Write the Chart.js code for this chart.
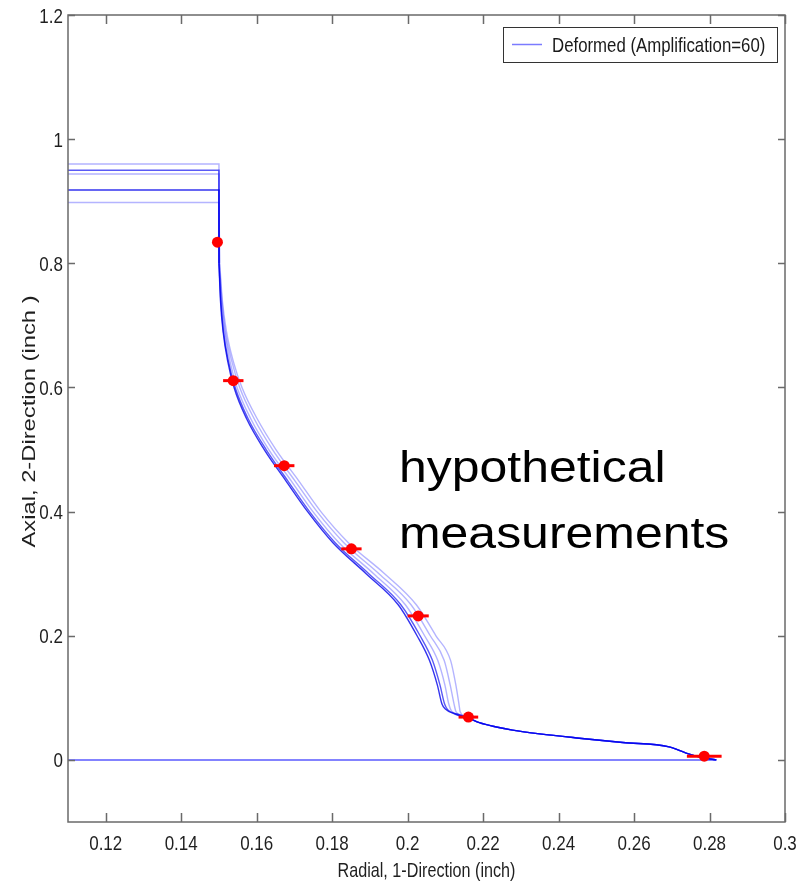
<!DOCTYPE html>
<html>
<head>
<meta charset="utf-8">
<script src="https://cdn.jsdelivr.net/npm/chart.js@4.4.1/dist/chart.umd.min.js"></script>
<style>
  html, body { margin: 0; padding: 0; background: #fff; }
  #wrap { width: 808px; height: 881px; }
</style>
</head>
<body>
<div id="wrap"><canvas id="deformChart" width="808" height="881"></canvas></div>
<script>
// axes
const xTicks = [0.12, 0.14, 0.16, 0.18, 0.2, 0.22, 0.24, 0.26, 0.28, 0.3];
const xTickLabels = ['0.12', '0.14', '0.16', '0.18', '0.2', '0.22', '0.24', '0.26', '0.28', '0.3'];
const yTicks = [0, 0.2, 0.4, 0.6, 0.8, 1, 1.2];
const yTickLabels = ['0', '0.2', '0.4', '0.6', '0.8', '1', '1.2'];

// flat tops of the deformed profiles (x from 0.11 to 0.15)
const capEdge = [0.11, 0.15];
const capTops = [0.918, 0.950, 0.960, 0.944, 0.898];

// deformed profiles, [radial, axial]
const curveA = [[0.1500,0.80],[0.1504,0.74],[0.1511,0.69],[0.1524,0.64],[0.1540,0.60],[0.1573,0.55],[0.1620,0.50],[0.1677,0.45],[0.1735,0.40],[0.1802,0.35],[0.1890,0.30],[0.1975,0.25],[0.2025,0.20],[0.2058,0.16],[0.2079,0.12],[0.2091,0.09],[0.2100,0.082],[0.2125,0.074]];
const curveB = [[0.1500,0.80],[0.1505,0.74],[0.1512,0.69],[0.1526,0.64],[0.1543,0.60],[0.1577,0.55],[0.1625,0.50],[0.1682,0.45],[0.1740,0.40],[0.1808,0.35],[0.1897,0.30],[0.1982,0.25],[0.2033,0.20],[0.2066,0.16],[0.2086,0.12],[0.2098,0.09],[0.2106,0.081],[0.2130,0.074]];
const curveC = [[0.1501,0.80],[0.1506,0.74],[0.1515,0.69],[0.1530,0.64],[0.1548,0.60],[0.1584,0.55],[0.1632,0.50],[0.1691,0.45],[0.1749,0.40],[0.1818,0.35],[0.1910,0.30],[0.1994,0.25],[0.2045,0.20],[0.2080,0.16],[0.2099,0.12],[0.2109,0.09],[0.2116,0.079],[0.2137,0.073]];
const curveD = [[0.1501,0.80],[0.1508,0.74],[0.1517,0.69],[0.1535,0.64],[0.1555,0.60],[0.1593,0.55],[0.1642,0.50],[0.1701,0.45],[0.1760,0.40],[0.1831,0.35],[0.1924,0.30],[0.2009,0.25],[0.2060,0.20],[0.2097,0.16],[0.2113,0.12],[0.2123,0.09],[0.2128,0.078],[0.2143,0.072]];
const curveE = [[0.1502,0.80],[0.1509,0.74],[0.1520,0.69],[0.1539,0.64],[0.1561,0.60],[0.1601,0.55],[0.1651,0.50],[0.1711,0.45],[0.1770,0.40],[0.1843,0.35],[0.1939,0.30],[0.2023,0.25],[0.2075,0.20],[0.2114,0.16],[0.2128,0.12],[0.2136,0.09],[0.2139,0.078],[0.2150,0.071]];
// where all profiles run together
const curveTail = [[0.2163,0.067],[0.2190,0.060],[0.2235,0.053],[0.2278,0.048],[0.2350,0.042],[0.2455,0.035],[0.2570,0.028],[0.2693,0.021],[0.2738,0.011],[0.2772,0.005],[0.2818,0.0]];
const baseLine = [[0.11, 0], [0.2818, 0]];

// hypothetical measurements
const measX = [0.1496, 0.1538, 0.1673, 0.1851, 0.2028, 0.2161, 0.2786];
const measY = [0.834, 0.611, 0.474, 0.340, 0.232, 0.069, 0.006];
const measErr = [0, 0.0027, 0.0027, 0.0027, 0.0028, 0.0026, 0.0046];

const sans = "'Liberation Sans', Arial, sans-serif";

const curves = [curveA, curveB, curveC, curveD, curveE];
const curveColors = ['rgba(0,0,235,0.8)', 'rgba(0,0,240,0.65)', 'rgba(40,40,255,0.35)', 'rgba(40,40,255,0.35)', 'rgba(40,40,255,0.35)'];

const toXY = arr => arr.map(p => ({ x: p[0], y: p[1] }));

const datasets = [{
  label: 'measurements',
  data: measX.map((x, i) => ({ x: x, y: measY[i] })),
  showLine: false,
  pointRadius: 5.5,
  pointBackgroundColor: '#ff0000',
  pointBorderWidth: 0
}];

curves.forEach((c, i) => {
  datasets.push({
    label: 'cap' + i,
    data: [{ x: capEdge[0], y: capTops[i] }, { x: capEdge[1], y: capTops[i] }, { x: c[0][0], y: c[0][1] }],
    showLine: true, pointRadius: 0, borderWidth: 1.5, borderColor: curveColors[i], tension: 0
  });
  datasets.push({
    label: i === 0 ? 'Deformed (Amplification=60)' : 'curve' + i,
    data: toXY(c.concat(curveTail)),
    showLine: true, pointRadius: 0, borderWidth: 1.4, borderColor: curveColors[i],
    cubicInterpolationMode: 'monotone'
  });
});

datasets.push({
  label: 'base',
  data: toXY(baseLine),
  showLine: true, pointRadius: 0, borderWidth: 2, borderColor: 'rgba(100,100,255,0.8)', tension: 0
});

// canvas text squeezed / stretched along its baseline
function squeezed(ctx, text, x, y, sx, align) {
  ctx.save();
  ctx.translate(x, y);
  ctx.scale(sx, 1);
  ctx.textAlign = align;
  ctx.fillText(text, 0, 0);
  ctx.restore();
}

// red horizontal error bars on the measurements
const errorBars = {
  id: 'errorBars',
  afterDatasetsDraw(chart) {
    const { ctx, scales: { x, y } } = chart;
    ctx.save();
    ctx.strokeStyle = '#ff0000';
    ctx.lineWidth = 3;
    measX.forEach((mx, i) => {
      if (!measErr[i]) return;
      const py = y.getPixelForValue(measY[i]);
      ctx.beginPath();
      ctx.moveTo(x.getPixelForValue(mx - measErr[i]), py);
      ctx.lineTo(x.getPixelForValue(mx + measErr[i]), py);
      ctx.stroke();
    });
    ctx.restore();
  }
};

// matlab style box, inward ticks, labels, titles, legend and the note
const frame = {
  id: 'frame',
  afterDraw(chart) {
    const { ctx, chartArea: a, scales: { x, y } } = chart;
    ctx.save();
    ctx.strokeStyle = '#6a6a6a';
    ctx.lineWidth = 1.5;
    ctx.strokeRect(a.left, a.top, a.right - a.left, a.bottom - a.top);
    ctx.beginPath();
    xTicks.forEach(v => {
      const px = Math.round(x.getPixelForValue(v)) + 0.5;
      ctx.moveTo(px, a.bottom); ctx.lineTo(px, a.bottom - 9);
      ctx.moveTo(px, a.top); ctx.lineTo(px, a.top + 9);
    });
    yTicks.forEach(v => {
      const py = Math.round(y.getPixelForValue(v)) + 0.5;
      ctx.moveTo(a.left, py); ctx.lineTo(a.left + 7, py);
      ctx.moveTo(a.right, py); ctx.lineTo(a.right - 7, py);
    });
    ctx.stroke();

    // tick labels
    ctx.fillStyle = '#1f1f1f';
    ctx.textBaseline = 'alphabetic';
    ctx.font = '21px ' + sans;
    xTicks.forEach((v, i) => squeezed(ctx, xTickLabels[i], x.getPixelForValue(v), 850, 0.81, 'center'));
    yTicks.forEach((v, i) => squeezed(ctx, yTickLabels[i], 63, y.getPixelForValue(v) + 7.5, 0.81, 'right'));

    // axis titles
    squeezed(ctx, 'Radial, 1-Direction (inch)', (a.left + a.right) / 2, 877, 0.77, 'center');
    ctx.save();
    ctx.translate(35, (a.top + a.bottom) / 2 + 3);
    ctx.rotate(-Math.PI / 2);
    ctx.font = '19px ' + sans;
    squeezed(ctx, 'Axial, 2-Direction (inch )', 0, 0, 1.25, 'center');
    ctx.restore();

    // legend
    ctx.fillStyle = '#fff';
    ctx.fillRect(503, 27, 274, 35);
    ctx.strokeStyle = '#333';
    ctx.lineWidth = 1;
    ctx.strokeRect(503.5, 27.5, 274, 35);
    ctx.strokeStyle = 'rgba(100,100,255,0.85)';
    ctx.lineWidth = 1.5;
    ctx.beginPath();
    ctx.moveTo(512, 44.5); ctx.lineTo(542, 44.5);
    ctx.stroke();
    ctx.fillStyle = '#1a1a1a';
    ctx.font = '21px ' + sans;
    squeezed(ctx, datasets[2].label, 552, 52, 0.80, 'left');

    // note
    ctx.fillStyle = '#000';
    ctx.font = '44px ' + sans;
    ['hypothetical', 'measurements'].forEach((t, i) => squeezed(ctx, t, 399, 482 + i * 66, 1.135, 'left'));
    ctx.restore();
  }
};

new Chart(document.getElementById('deformChart').getContext('2d'), {
  type: 'scatter',
  data: { datasets: datasets },
  options: {
    responsive: false,
    animation: false,
    layout: { padding: { top: 15, right: 23, left: 0, bottom: 0 } },
    plugins: { legend: { display: false }, tooltip: { enabled: false } },
    scales: {
      x: {
        type: 'linear', min: 0.11, max: 0.3,
        afterFit: s => { s.height = 59; },
        afterBuildTicks: s => { s.ticks = xTicks.map(v => ({ value: v })); },
        grid: { display: false, drawTicks: false },
        border: { display: false },
        ticks: { display: false }
      },
      y: {
        type: 'linear', min: -0.1, max: 1.2,
        afterFit: s => { s.width = 68; },
        afterBuildTicks: s => { s.ticks = yTicks.map(v => ({ value: v })); },
        grid: { display: false, drawTicks: false },
        border: { display: false },
        ticks: { display: false }
      }
    }
  },
  plugins: [errorBars, frame]
});
</script>
</body>
</html>
